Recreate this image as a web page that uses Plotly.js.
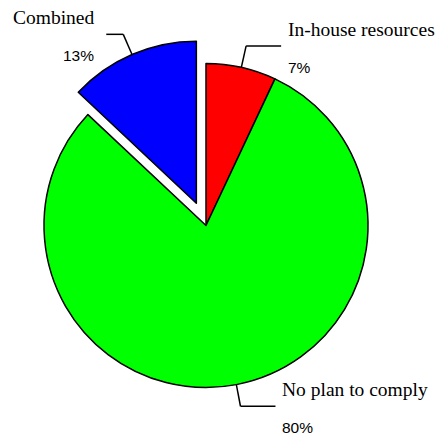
<!DOCTYPE html>
<html><head><meta charset="utf-8">
<script src="https://cdn.plot.ly/plotly-3.0.1.min.js"></script>
<style>html,body{margin:0;padding:0;background:#fff}#chart{width:443px;height:438px}</style>
</head><body><div id="chart"></div>
<script>
const labels = ['In-house resources', 'No plan to comply', 'Combined'];
const values = [7, 80, 13];
const colors = ['#ff0000', '#00ff00', '#0000ff'];
const pulls = [0, 0, 0.15];

const W = 443, H = 438;
const CX = 206, CY = 225.5, R = 162;
const leaderOut = 22;
const leaderLen = [35, 35, 17];
const maxPull = Math.max(...pulls);
const half = R * (1 + maxPull);
const domain = {x: [(CX - half) / W, (CX + half) / W], y: [1 - (CY + half) / H, 1 - (CY - half) / H]};

const px = x => x / W, py = y => 1 - y / H;
const total = values.reduce((a, b) => a + b, 0);
let cum = 0;
const shapes = [], annotations = [];
const serif = "'Liberation Serif', 'Times New Roman', serif";
const sans = "'Liberation Sans', Arial, sans-serif";
values.forEach((v, i) => {
  const frac = v / total;
  const mid = (cum + frac / 2) * 2 * Math.PI;
  cum += frac;
  const sx = Math.sin(mid), sy = -Math.cos(mid);
  const off = pulls[i] * R;
  const ex = CX + (R + off) * sx, ey = CY + (R + off) * sy;
  const kx = ex + leaderOut * sx, ky = ey + leaderOut * sy;
  const side = sx >= 0 ? 1 : -1;
  const hx = kx + side * leaderLen[i];
  const line = {color: '#000', width: 1.5};
  shapes.push({type: 'line', xref: 'paper', yref: 'paper', x0: px(ex), y0: py(ey), x1: px(kx), y1: py(ky), line});
  shapes.push({type: 'line', xref: 'paper', yref: 'paper', x0: px(kx), y0: py(ky), x1: px(hx), y1: py(ky), line});
  const tx = hx + side * (side > 0 ? 5 : 10);
  const anchor = side > 0 ? 'left' : 'right';
  annotations.push({xref: 'paper', yref: 'paper', x: px(tx), y: py(ky - 16.5), xanchor: anchor, yanchor: 'middle',
    text: labels[i], showarrow: false, font: {family: serif, size: 19.5, color: '#000'}});
  annotations.push({xref: 'paper', yref: 'paper', x: px(tx), y: py(ky + 21.5), xanchor: anchor, yanchor: 'middle',
    text: Math.round(frac * 100) + '%', showarrow: false, font: {family: sans, size: 15.5, color: '#000'}});
});

Plotly.newPlot('chart', [{
  type: 'pie', labels, values, pull: pulls, sort: false, direction: 'clockwise', rotation: 0,
  marker: {colors, line: {color: '#000', width: 1.5}},
  textinfo: 'none', hoverinfo: 'none', showlegend: false, domain
}], {
  width: W, height: H, margin: {l: 0, r: 0, t: 0, b: 0},
  paper_bgcolor: '#fff', plot_bgcolor: '#fff', showlegend: false,
  shapes, annotations
}, {displayModeBar: false, staticPlot: true});
</script></body></html>
